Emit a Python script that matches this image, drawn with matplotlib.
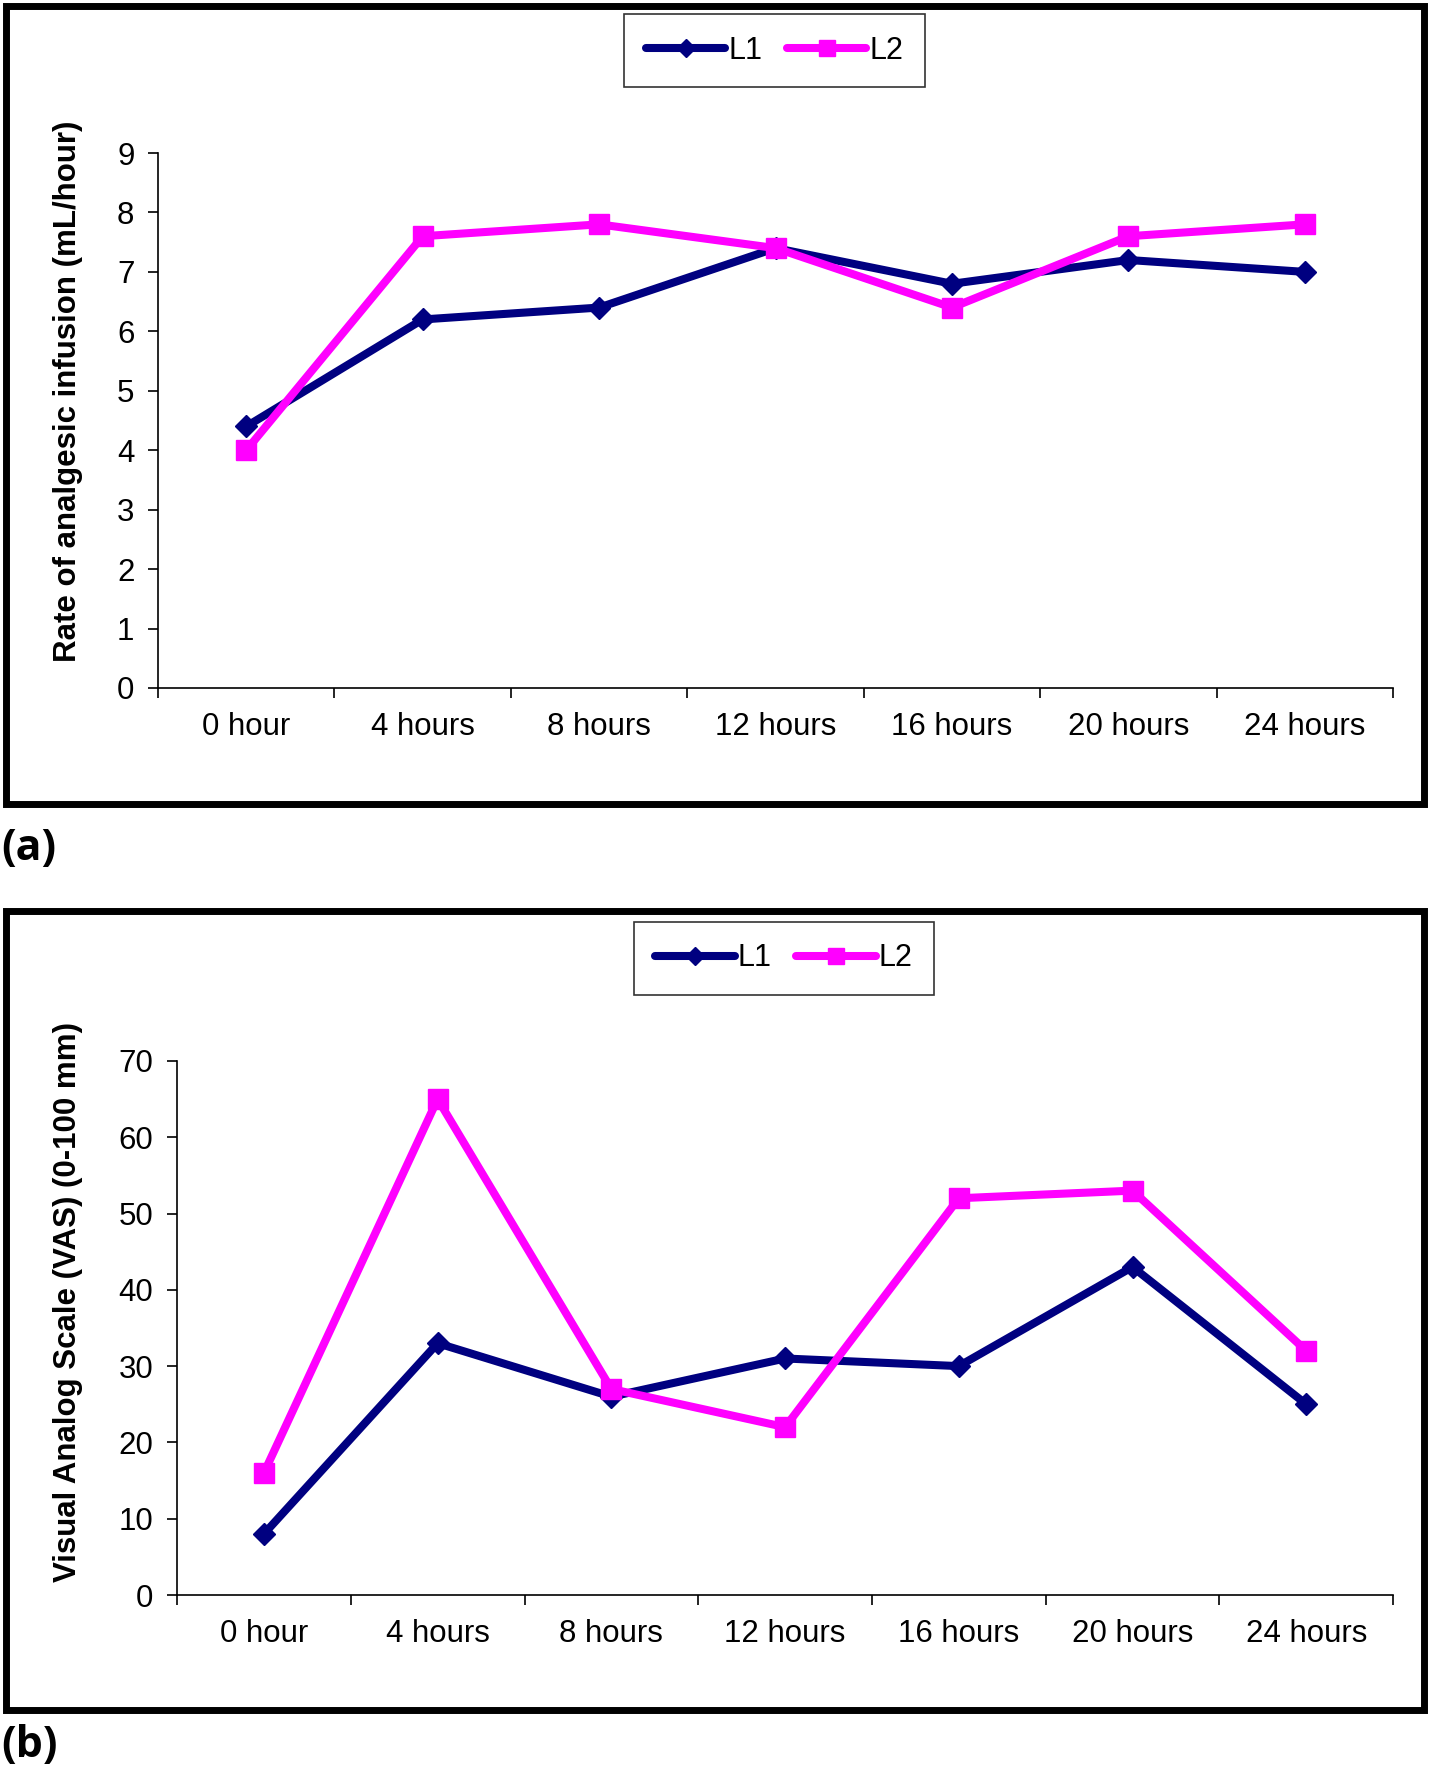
import matplotlib
matplotlib.use("Agg")
import matplotlib.pyplot as plt
from matplotlib.patches import Rectangle

# categories and series values
categorias = ["0 hour", "4 hours", "8 hours", "12 hours", "16 hours", "20 hours", "24 hours"]
series_nomes = ["L1", "L2"]
# painel (a): taxa de infusao (mL/hora)
taxa_L1 = [4.4, 6.2, 6.4, 7.4, 6.8, 7.2, 7.0]
taxa_L2 = [4.0, 7.6, 7.8, 7.4, 6.4, 7.6, 7.8]
# painel (b): escala visual analogica
vas_L1 = [8, 33, 26, 31, 30, 43, 25]
vas_L2 = [16, 65, 27, 22, 52, 53, 32]

plt.rcParams['font.family'] = ['Liberation Sans', 'DejaVu Sans']

fig = plt.figure(figsize=(14.29, 17.75), dpi=100)

cor_L1 = "#000080"
cor_L2 = "#FF00FF"


def painel(ax, v1, v2, ymax, ylabel, leg_xy, ylab_xy):
    x = [i + 0.5 for i in range(len(categorias))]
    ax.plot(x, v1, color=cor_L1, lw=5.8, marker='D', ms=11, label=series_nomes[0],
            solid_capstyle='round')
    ax.plot(x, v2, color=cor_L2, lw=5.8, marker='s', ms=15, label=series_nomes[1],
            solid_capstyle='round')
    ax.set_xlim(0, len(categorias))
    ax.set_ylim(0, ymax)
    ax.spines['top'].set_visible(False)
    ax.spines['right'].set_visible(False)
    ax.spines['left'].set_linewidth(1.2)
    ax.spines['bottom'].set_linewidth(1.2)
    # ticks entre as categorias, rotulos no centro
    ax.set_xticks(range(len(categorias) + 1))
    ax.set_xticklabels([])
    ax.set_xticks(x, minor=True)
    ax.set_xticklabels(categorias, minor=True, fontsize=22.5)
    ax.tick_params(axis='x', which='major', direction='out', length=7, width=1.2)
    ax.tick_params(axis='x', which='minor', length=0, pad=17)
    ax.tick_params(axis='y', direction='out', length=7, width=1.2, labelsize=22.5, pad=10)
    ax.set_ylabel(ylabel, fontsize=22.5, fontweight='bold')
    ax.yaxis.set_label_coords(*ylab_xy)
    leg = ax.legend(loc='center', bbox_to_anchor=leg_xy, bbox_transform=fig.transFigure,
                    ncol=2, fontsize=22, frameon=True, fancybox=False, edgecolor='black',
                    handlelength=2.6, handletextpad=0.1, columnspacing=0.8,
                    borderpad=0.7, markerscale=0.8)
    leg.get_frame().set_linewidth(1.2)


# painel (a)
ax1 = fig.add_axes([0.1106, 0.6124, 0.8643, 0.3014])
painel(ax1, taxa_L1, taxa_L2, 9, "Rate of analgesic infusion (mL/hour)", (0.542, 0.9715),
       (-0.061, 0.555))
ax1.set_yticks(range(0, 10))

# painel (b)
ax2 = fig.add_axes([0.1239, 0.1014, 0.851, 0.3009])
painel(ax2, vas_L1, vas_L2, 70, "Visual Analog Scale (VAS) (0-100 mm)", (0.5486, 0.46),
       (-0.077, 0.549))
ax2.set_yticks(range(0, 80, 10))

# molduras externas
fig.patches.append(Rectangle((0.0042, 0.547), 0.9923, 0.4496, transform=fig.transFigure,
                             fill=False, edgecolor='black', lw=5))
fig.patches.append(Rectangle((0.0042, 0.0366), 0.9923, 0.4502, transform=fig.transFigure,
                             fill=False, edgecolor='black', lw=5))

fig.text(0.001, 1 - 848 / 1775, "(a)", fontsize=31, fontweight='bold', va='center', ha='left',
         family=['Open Sans', 'DejaVu Sans'])
fig.text(0.001, 1 - 1746 / 1775, "(b)", fontsize=31, fontweight='bold', va='center', ha='left',
         family=['Open Sans', 'DejaVu Sans'])

fig.savefig("out.png", dpi=100)
